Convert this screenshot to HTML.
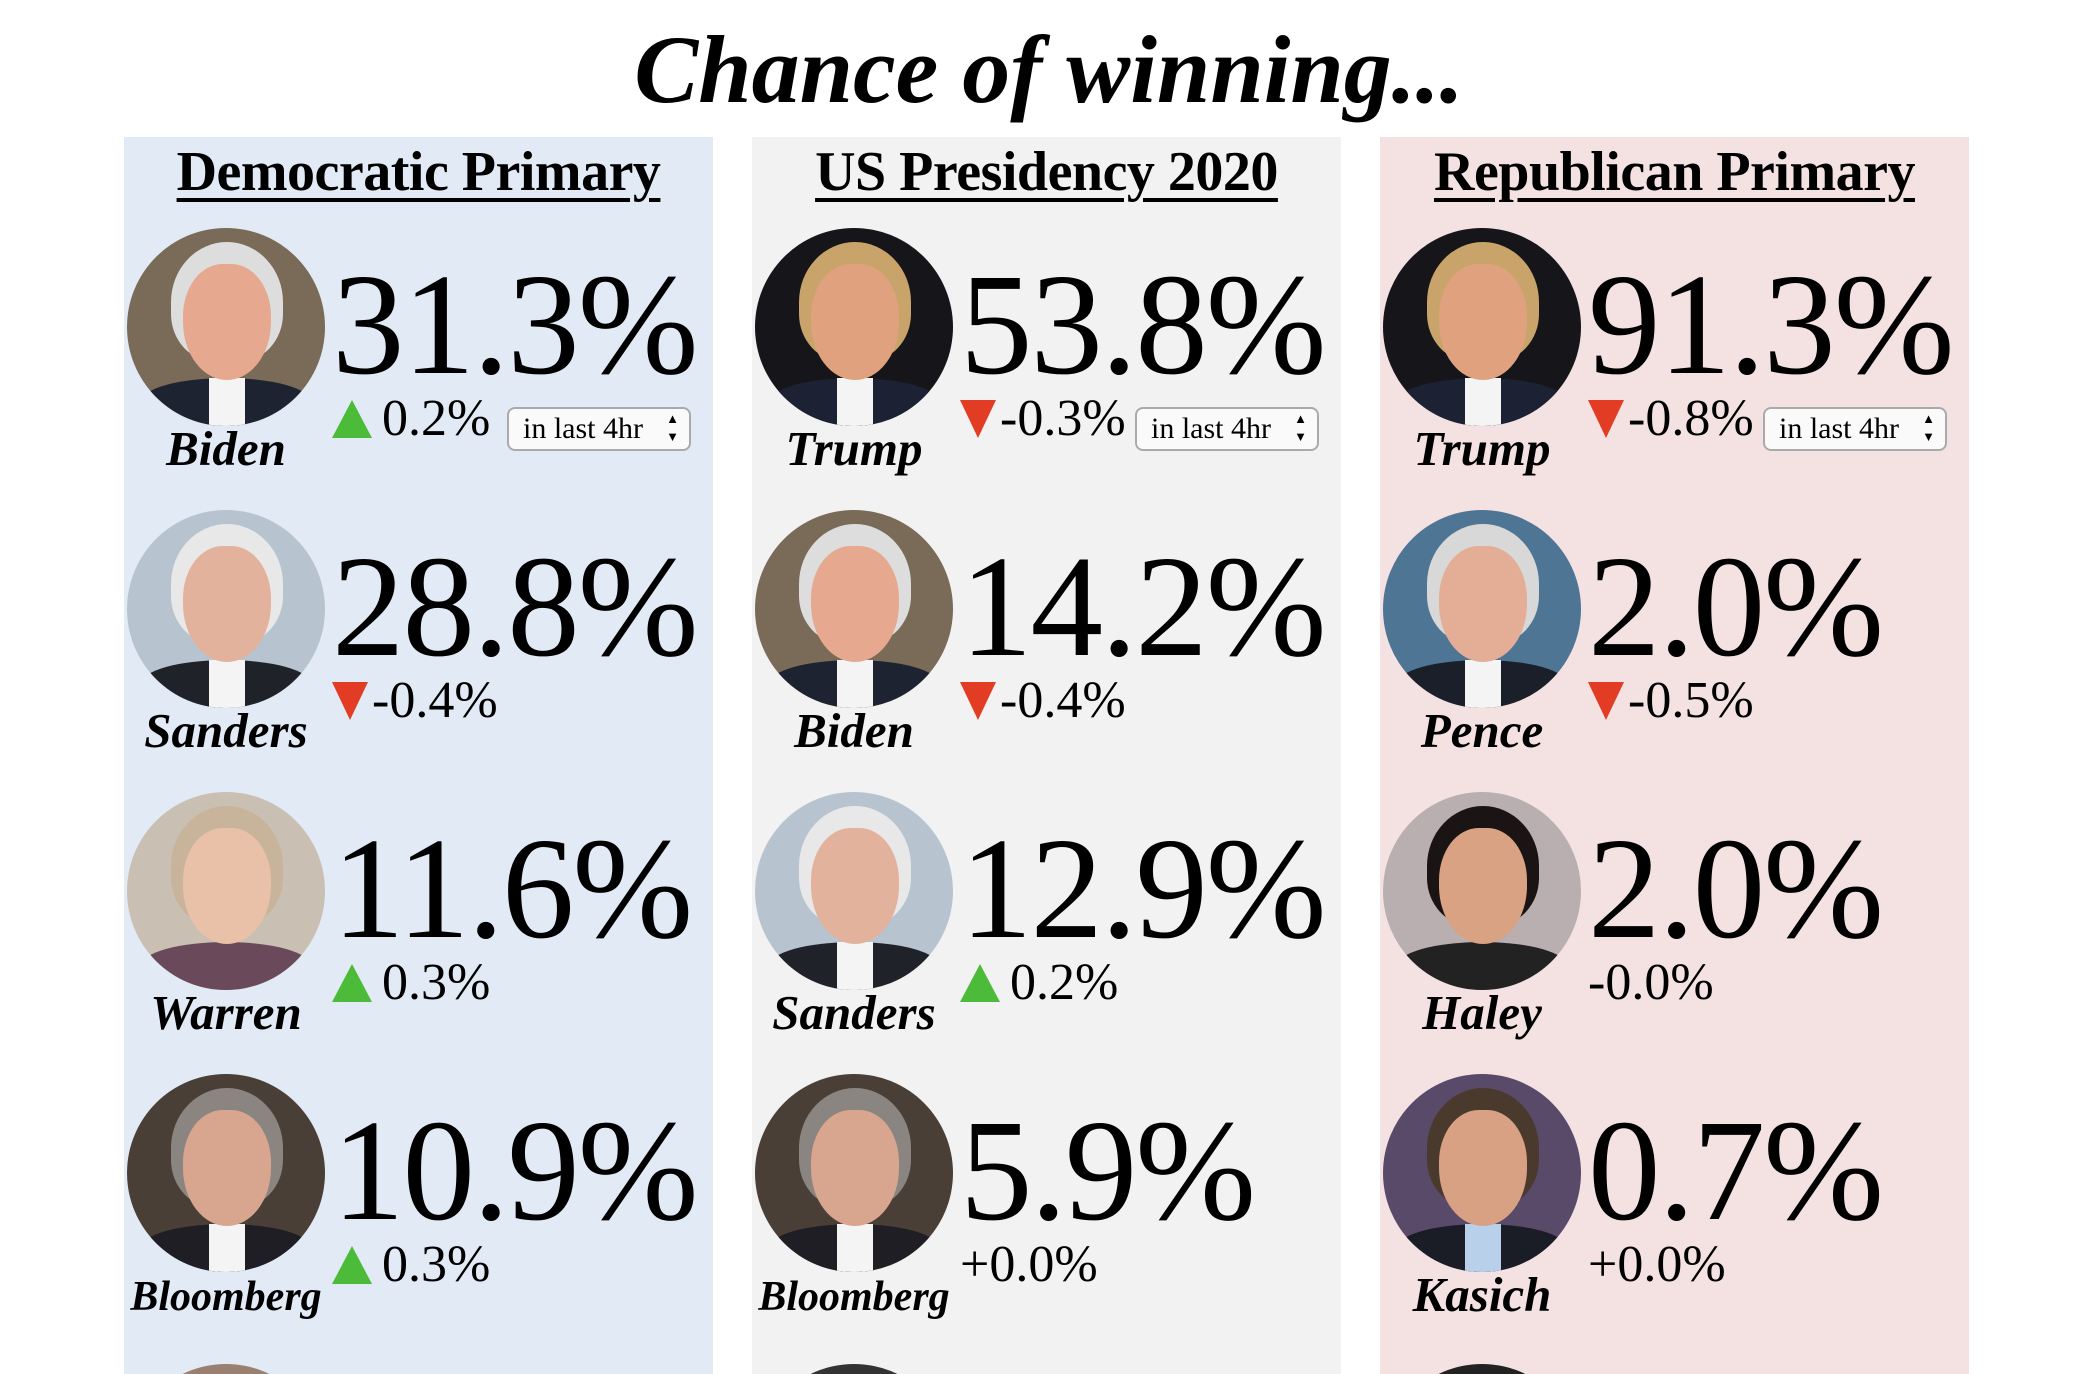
<!DOCTYPE html>
<html><head><meta charset="utf-8"><style>
*{margin:0;padding:0;box-sizing:border-box}
html,body{width:2090px;height:1374px;overflow:hidden}
body{background:#fff;position:relative;font-family:"Liberation Serif","DejaVu Serif",serif;color:#000}
.title{position:absolute;left:0;width:2090px;padding-left:8px;top:22px;text-align:center;font-size:96px;font-weight:bold;font-style:italic;line-height:1}
.panel{position:absolute;top:137px;width:589px;height:1237px;overflow:hidden}
.p1{left:124px;background:#e1eaf5}.p2{left:752px;background:#f2f2f2}.p3{left:1380px;background:#f4e2e3}
.hd{position:absolute;left:0;right:0;top:7px;text-align:center;font-size:56px;font-weight:bold;text-decoration:underline;text-decoration-thickness:4px;text-underline-offset:8px;line-height:1;letter-spacing:-0.5px}
.row{position:absolute;left:0;width:589px;height:282px}
.r0{top:91px}.r1{top:373px}.r2{top:655px}.r3{top:937px}
.r4{top:1227px;height:10px;overflow:hidden}
.ph{position:absolute;left:3px;top:0;width:198px;height:198px;border-radius:50%;overflow:hidden}
.ph .hair{position:absolute;left:44px;top:14px;width:112px;height:120px;border-radius:50% 50% 40% 40%}
.ph .face{position:absolute;left:56px;top:36px;width:88px;height:116px;border-radius:45% 45% 50% 50%}
.ph .suit{position:absolute;left:14px;top:150px;width:170px;height:48px;border-radius:50% 50% 0 0}
.ph .shirt{position:absolute;left:82px;top:150px;width:36px;height:48px;background:#f4f4f4}
.num{position:absolute;left:208px;top:25px;font-size:145px;line-height:1;letter-spacing:-2px;white-space:nowrap}
.chg{position:absolute;left:208px;top:165px;font-size:52px;line-height:1;white-space:nowrap;display:flex;align-items:flex-start}
.up{display:inline-block;width:0;height:0;border-left:20px solid transparent;border-right:20px solid transparent;border-bottom:38px solid #4cbb3a;margin:7px 10px 0 0}
.dn{display:inline-block;width:0;height:0;border-left:18px solid transparent;border-right:18px solid transparent;border-top:38px solid #e23d24;margin:7px 4px 0 0}
.nm{position:absolute;left:-40px;width:284px;top:196px;text-align:center;font-size:49px;font-weight:bold;font-style:italic;line-height:1;white-space:nowrap}
.nm.s{font-size:42px;top:202px}
.sel{position:absolute;left:383px;top:179px;width:184px;height:44px;border:2px solid #aaa;border-radius:8px;background:#fafafa;font-size:30px;line-height:40px;padding-left:14px;white-space:nowrap}
.sel:after{content:"▲";position:absolute;right:10px;top:3px;font-size:13px;line-height:14px}
.sel:before{content:"▼";position:absolute;right:10px;top:21px;font-size:13px;line-height:14px}
</style></head><body>
<div class="title">Chance of winning...</div>

<div class="panel p1">
<div class="hd">Democratic Primary</div>
<div class="row r0"><div class="ph" style="background:#7a6a58"><div class="suit" style="background:#1d2330"></div><div class="shirt"></div><div class="hair" style="background:#ddd"></div><div class="face" style="background:#e6a98f"></div></div>
<div class="num">31.3%</div><div class="chg"><span class="up"></span>0.2%</div><div class="sel">in last 4hr</div><div class="nm">Biden</div></div>
<div class="row r1"><div class="ph" style="background:#b7c4d0"><div class="suit" style="background:#20222a"></div><div class="shirt"></div><div class="hair" style="background:#e8e8e8"></div><div class="face" style="background:#e3b29c"></div></div>
<div class="num">28.8%</div><div class="chg"><span class="dn"></span>-0.4%</div><div class="nm">Sanders</div></div>
<div class="row r2"><div class="ph" style="background:#c9bfb2"><div class="suit" style="background:#6a4a5a"></div><div class="hair" style="background:#c8b49a"></div><div class="face" style="background:#e9c0a8"></div></div>
<div class="num">11.6%</div><div class="chg"><span class="up"></span>0.3%</div><div class="nm">Warren</div></div>
<div class="row r3"><div class="ph" style="background:#4a3f36"><div class="suit" style="background:#1e1e24"></div><div class="shirt"></div><div class="hair" style="background:#8a8580"></div><div class="face" style="background:#d8a58e"></div></div>
<div class="num">10.9%</div><div class="chg"><span class="up"></span>0.3%</div><div class="nm s">Bloomberg</div></div>
<div class="row r4"><div class="ph" style="background:#9a8070"></div></div>
</div>

<div class="panel p2">
<div class="hd">US Presidency 2020</div>
<div class="row r0"><div class="ph" style="background:#15151a"><div class="suit" style="background:#1c2233"></div><div class="shirt"></div><div class="hair" style="background:#c9a46a"></div><div class="face" style="background:#e0a27e"></div></div>
<div class="num">53.8%</div><div class="chg"><span class="dn"></span>-0.3%</div><div class="sel">in last 4hr</div><div class="nm">Trump</div></div>
<div class="row r1"><div class="ph" style="background:#7a6a58"><div class="suit" style="background:#1d2330"></div><div class="shirt"></div><div class="hair" style="background:#ddd"></div><div class="face" style="background:#e6a98f"></div></div>
<div class="num">14.2%</div><div class="chg"><span class="dn"></span>-0.4%</div><div class="nm">Biden</div></div>
<div class="row r2"><div class="ph" style="background:#b7c4d0"><div class="suit" style="background:#20222a"></div><div class="shirt"></div><div class="hair" style="background:#e8e8e8"></div><div class="face" style="background:#e3b29c"></div></div>
<div class="num">12.9%</div><div class="chg"><span class="up"></span>0.2%</div><div class="nm">Sanders</div></div>
<div class="row r3"><div class="ph" style="background:#4a3f36"><div class="suit" style="background:#1e1e24"></div><div class="shirt"></div><div class="hair" style="background:#8a8580"></div><div class="face" style="background:#d8a58e"></div></div>
<div class="num">5.9%</div><div class="chg">+0.0%</div><div class="nm s">Bloomberg</div></div>
<div class="row r4"><div class="ph" style="background:#333"></div></div>
</div>

<div class="panel p3">
<div class="hd">Republican Primary</div>
<div class="row r0"><div class="ph" style="background:#15151a"><div class="suit" style="background:#1c2233"></div><div class="shirt"></div><div class="hair" style="background:#c9a46a"></div><div class="face" style="background:#e0a27e"></div></div>
<div class="num">91.3%</div><div class="chg"><span class="dn"></span>-0.8%</div><div class="sel">in last 4hr</div><div class="nm">Trump</div></div>
<div class="row r1"><div class="ph" style="background:#4f7595"><div class="suit" style="background:#1b1f2a"></div><div class="shirt"></div><div class="hair" style="background:#d8d8d8"></div><div class="face" style="background:#e4ae96"></div></div>
<div class="num">2.0%</div><div class="chg"><span class="dn"></span>-0.5%</div><div class="nm">Pence</div></div>
<div class="row r2"><div class="ph" style="background:#b9aeb0"><div class="suit" style="background:#222"></div><div class="hair" style="background:#1a1414"></div><div class="face" style="background:#d9a383"></div></div>
<div class="num">2.0%</div><div class="chg">-0.0%</div><div class="nm">Haley</div></div>
<div class="row r3"><div class="ph" style="background:#5a4a6a"><div class="suit" style="background:#1a1d26"></div><div class="shirt" style="background:#b8d0ea"></div><div class="hair" style="background:#4a3a2e"></div><div class="face" style="background:#d9a184"></div></div>
<div class="num">0.7%</div><div class="chg">+0.0%</div><div class="nm">Kasich</div></div>
<div class="row r4"><div class="ph" style="background:#222"></div></div>
</div>
</body></html>
